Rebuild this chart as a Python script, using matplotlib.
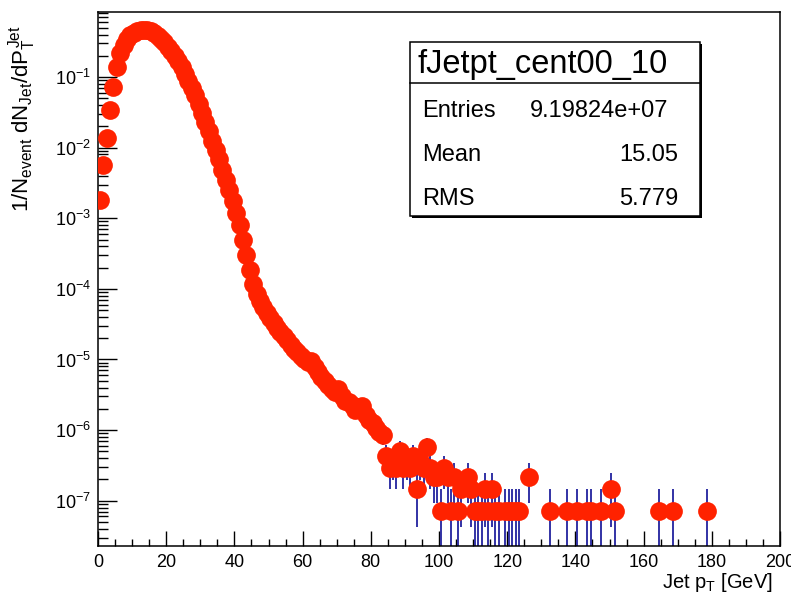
import matplotlib
matplotlib.use('Agg')
import numpy as np
import matplotlib.pyplot as plt
from matplotlib.patches import Rectangle
from matplotlib.ticker import MultipleLocator, LogLocator, NullFormatter

plt.rcParams['font.family'] = ['Liberation Sans', 'DejaVu Sans']
plt.rcParams['mathtext.fontset'] = 'custom'
plt.rcParams['mathtext.rm'] = 'Liberation Sans'
plt.rcParams['mathtext.it'] = 'Liberation Sans'
plt.rcParams['mathtext.bf'] = 'Liberation Sans:bold'

# --- histogram content (1 GeV bins, 1/N_event dN/dpT) ---
# bulk of the spectrum, bins 0-1 ... 82-83 GeV
body_yield = [
    1.8e-3, 5.6e-3, 1.38e-2, 3.4e-2, 7.2e-2, 0.141, 0.219, 0.288, 0.347, 0.389,
    0.427, 0.447, 0.462, 0.468, 0.462, 0.447, 0.417, 0.380, 0.347, 0.309,
    0.269, 0.234, 0.200, 0.166, 0.138, 0.112, 8.9e-2, 7.1e-2, 5.5e-2, 4.2e-2,
    3.1e-2, 2.3e-2, 1.7e-2, 1.26e-2, 9.3e-3, 6.8e-3, 4.9e-3, 3.5e-3, 2.5e-3, 1.78e-3,
    1.2e-3, 7.9e-4, 5.0e-4, 3.0e-4, 1.82e-4, 1.17e-4, 8.5e-5, 6.8e-5, 5.5e-5, 4.6e-5,
    3.9e-5, 3.3e-5, 2.8e-5, 2.45e-5, 2.14e-5, 1.86e-5, 1.62e-5, 1.41e-5, 1.26e-5, 1.12e-5,
    1.0e-5, 9.1e-6, 9.5e-6, 7.9e-6, 6.6e-6, 5.6e-6, 5.0e-6, 4.4e-6, 3.8e-6, 3.5e-6,
    3.8e-6, 3.0e-6, 2.6e-6, 2.5e-6, 2.24e-6, 1.9e-6, 2.1e-6, 2.2e-6, 1.66e-6, 1.4e-6,
    1.26e-6, 1.07e-6, 9.5e-7,
]
# sparse tail: bin centres and raw jet counts
tail_pt = [83.5, 84.5, 85.5, 86.5, 87.5, 88.5, 89.5, 90.5, 91.5, 92.5,
           93.5, 94.5, 95.5, 96.5, 97.5, 98.5, 99.5, 100.5, 101.5, 102.5,
           103.5, 104.5, 105.5, 106.5, 108.5, 109.5, 110.5, 111.5, 112.5, 113.5,
           114.5, 115.5, 116.5, 117.5, 119.5, 120.5, 121.5, 122.5, 123.5, 126.5,
           132.5, 137.5, 140.5, 143.5, 144.5, 147.5, 150.5, 151.5, 164.5, 168.5,
           178.5]
tail_counts = [12, 6, 4, 5, 4, 7, 4, 5, 4, 6,
               2, 5, 4, 8, 4, 3, 3, 1, 4, 3,
               1, 3, 1, 2, 3, 2, 1, 1, 1, 2,
               1, 2, 1, 1, 1, 1, 1, 1, 1, 3,
               1, 1, 1, 1, 1, 1, 2, 1, 1, 1,
               1]
unit = 7.2e-8          # weight of a single jet
stats = [("Entries", "9.19824e+07"), ("Mean", "15.05"), ("RMS", "5.779")]

pt = np.concatenate([np.arange(len(body_yield)) + 0.5, tail_pt])
y = np.concatenate([body_yield, np.array(tail_counts) * unit])
err = np.sqrt(y * unit)
err_lo = np.minimum(err, y * 0.9999)

W, H = 791, 599
fig = plt.figure(figsize=(W / 100, H / 100), dpi=100)
ax = fig.add_axes([98 / W, 1 - 546 / H, 682 / W, 534 / H])

ax.errorbar(pt, y, yerr=[err_lo, err], fmt='none', ecolor='#22229e',
            elinewidth=1.3, capsize=0, zorder=2)
ax.plot(pt, y, 'o', color='#ff2200', ms=13.5, mec='none', zorder=3)

ax.set_yscale('log')
ax.set_xlim(0, 200)
ax.set_ylim(2.28e-8, 0.834)
ax.xaxis.set_major_locator(MultipleLocator(20))
ax.xaxis.set_minor_locator(MultipleLocator(5))
ax.yaxis.set_major_locator(LogLocator(base=10, numticks=20))
ax.yaxis.set_minor_locator(LogLocator(base=10, subs=np.arange(2, 10), numticks=20))
ax.yaxis.set_minor_formatter(NullFormatter())
ax.tick_params(which='both', direction='in', top=False, right=False,
               labelsize=13, width=1, colors='black')
ax.tick_params(axis='x', which='major', length=11, pad=6)
ax.tick_params(axis='x', which='minor', length=5)
ax.tick_params(axis='y', which='major', length=14, pad=5)
ax.tick_params(axis='y', which='minor', length=7)
for s in ax.spines.values():
    s.set_linewidth(1.1)

ax.set_ylabel(r'$1/N_{event}\ dN_{Jet}/dP^{Jet}_{T}$', fontsize=16, loc='top')
ax.yaxis.set_label_coords(-0.088, 0.976)
ax.set_xlabel(r'Jet p$_{T}$ [GeV]', fontsize=14.5, loc='right')
ax.xaxis.set_label_coords(0.99, -0.046)

# stats box, ROOT style
def fx(px):
    return px / W

def fy(py):
    return 1 - py / H

bl, br, bt, bb, sep = 410, 700, 42, 216, 83
fig.add_artist(Rectangle((fx(bl + 2), fy(bb + 2)), fx(br - bl), fy(bt) - fy(bb),
                         transform=fig.transFigure, facecolor='black', edgecolor='none'))
fig.add_artist(Rectangle((fx(bl), fy(bb)), fx(br - bl), fy(bt) - fy(bb),
                         transform=fig.transFigure, facecolor='white',
                         edgecolor='black', linewidth=1.1))
fig.add_artist(plt.Line2D([fx(bl), fx(br)], [fy(sep), fy(sep)],
                          transform=fig.transFigure, color='black', linewidth=1.1))
fig.text(fx((bl + br) / 2 - 12), fy(73), "fJetpt_cent00_10", fontsize=23.5,
         ha='center', va='baseline')
val_right = [668, 678, 678]
for i, (name, val) in enumerate(stats):
    base = 117 + i * 44
    fig.text(fx(422), fy(base), name, fontsize=17, ha='left', va='baseline')
    fig.text(fx(val_right[i]), fy(base), val, fontsize=17, ha='right', va='baseline')

fig.savefig('out.png', dpi=100)
